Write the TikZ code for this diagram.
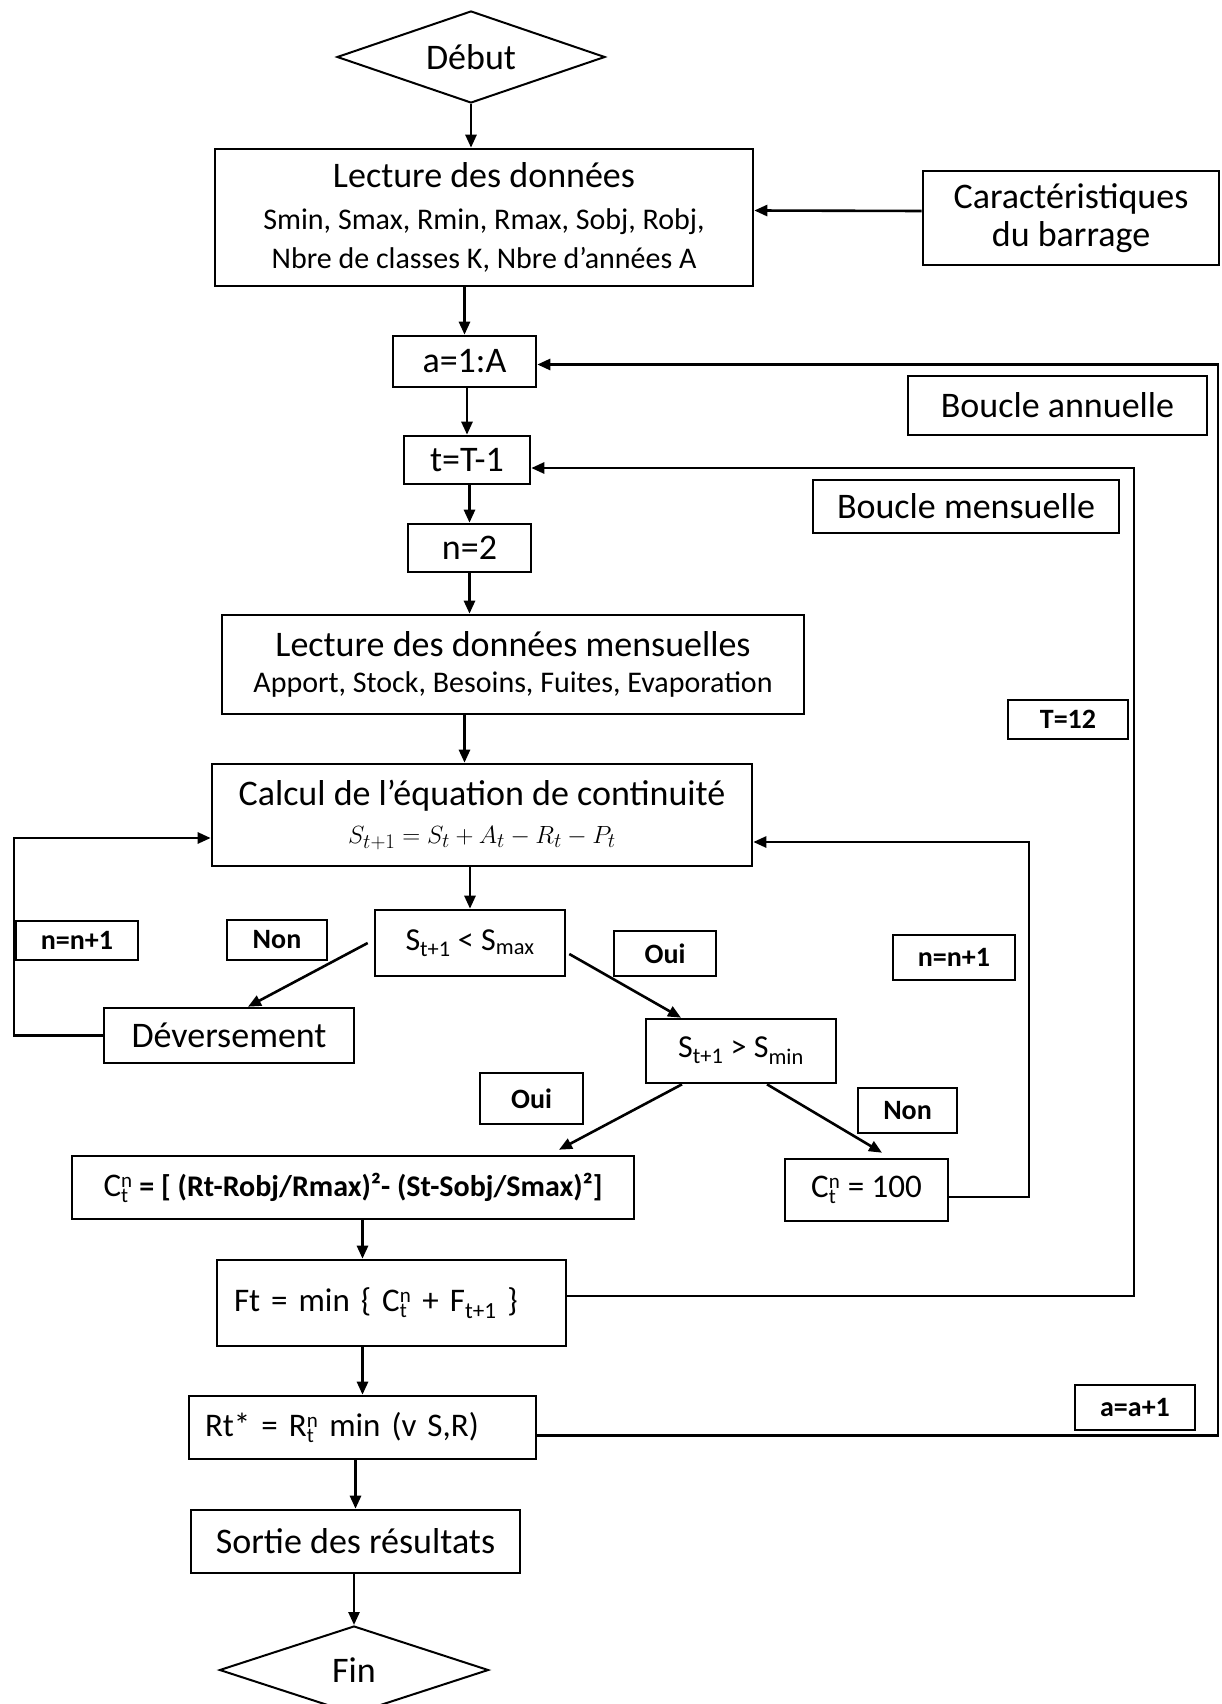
\documentclass[tikz,border=0pt]{standalone}
\usepackage{fontspec}
\setmainfont{Carlito}
\usetikzlibrary{shapes.geometric,arrows.meta}
\newcommand{\ftitle}{\fontsize{36}{42}\selectfont}
\newcommand{\fsub}{\fontsize{30}{34}\selectfont}
\newcommand{\fform}{\fontsize{33}{38}\selectfont}
\newcommand{\subsup}[2]{$_{\mbox{\fontsize{21}{22}\selectfont #1}}^{\mbox{\fontsize{21}{22}\selectfont #2}}$}
\begin{document}
\begin{tikzpicture}[x=1pt,y=-1pt,
  box/.style={draw, line width=2.6pt, rectangle, inner sep=0pt, align=center, font=\ftitle},
  lbl/.style={draw, line width=2.6pt, rectangle, inner sep=0pt, font=\fontsize{28}{32}\selectfont\bfseries},
  decision/.style={draw, line width=2pt, diamond, aspect=3, inner sep=0pt, font=\ftitle},
  arr/.style={line width=2.6pt, -{Triangle[length=13pt,width=11pt]}},
]
\useasboundingbox (0,0) rectangle (1221,1704);

% main column
\node[decision, minimum width=268pt, minimum height=92pt] (debut) at (471,57) {Début};
\node[box, minimum width=538pt, minimum height=137pt] (lect) at (484,217.5)
  {Lecture des données\\[0pt]
   {\fsub Smin, Smax, Rmin, Rmax, Sobj, Robj,}\\[-3pt]
   {\fsub Nbre de classes K, Nbre d’années A}};
\node[box, minimum width=296pt, minimum height=94pt] (carac) at (1071,218)
  {Caractéristiques\\[-4pt] du barrage};
\node[box, minimum width=143pt, minimum height=51pt] (a1) at (464.5,361.5) {a=1:A};
\node[box, minimum width=299pt, minimum height=59pt] (bann) at (1057.5,405.5) {Boucle annuelle};
\node[box, minimum width=126pt, minimum height=48pt] (tT) at (467,460) {t=T-1};
\node[box, minimum width=306pt, minimum height=53pt] (bmens) at (966,506.5) {Boucle mensuelle};
\node[box, minimum width=123pt, minimum height=48pt] (n2) at (469.5,548) {n=2};
\node[box, minimum width=582pt, minimum height=99pt] (lmens) at (513,664.5)
  {Lecture des données mensuelles\\[-6pt]
   {\fsub Apport, Stock, Besoins, Fuites, Evaporation}};
\node[lbl, minimum width=120pt, minimum height=39pt] (t12) at (1068,719.5) {T=12};
\node[box, minimum width=540pt, minimum height=102pt] (calc) at (482,815)
  {Calcul de l’équation de continuité\\[-4pt]
   {\fontsize{31}{36}\selectfont $S_{t+1} = S_t + A_t - R_t - P_t$}};

% tests
\node[lbl, minimum width=122pt, minimum height=39pt] (nn1L) at (77,940.5) {n=n+1};
\node[lbl, minimum width=100pt, minimum height=40pt] (nonL) at (277,940) {Non};
\node[box, minimum width=190pt, minimum height=66pt, font=\fontsize{32}{36}\selectfont] (smax) at (470,943)
  {S\textsubscript{t+1} < S\textsubscript{max}};
\node[lbl, minimum width=102pt, minimum height=45pt] (ouiR) at (665,953.5) {Oui};
\node[lbl, minimum width=122pt, minimum height=45pt] (nn1R) at (954,957.5) {n=n+1};
\node[box, minimum width=250pt, minimum height=55pt] (dev) at (229,1035.5) {Déversement};
\node[box, minimum width=190pt, minimum height=64pt, font=\fontsize{32}{36}\selectfont] (smin) at (741,1051)
  {S\textsubscript{t+1} > S\textsubscript{min}};
\node[lbl, minimum width=103pt, minimum height=51pt] (ouiL) at (531.5,1098.5) {Oui};
\node[lbl, minimum width=99pt, minimum height=45pt] (nonR) at (907.5,1110.5) {Non};
\node[box, minimum width=562pt, minimum height=63pt] (cform) at (353,1187.5)
  {{\fform C\subsup{t}{n}}{\fontsize{30}{34}\selectfont\bfseries\ = [ (Rt-Robj/Rmax)²- (St-Sobj/Smax)²]}};
\node[box, minimum width=163pt, minimum height=62pt, font=\fform] (c100) at (866.5,1190)
  {C\subsup{t}{n} = 100};

% results
\node[box, minimum width=349pt, minimum height=86pt, text width=315pt, align=left, font=\fform] (ft) at (391.5,1303)
  {Ft = min \{ C\subsup{t}{n} + F\textsubscript{t+1} \}\\[8pt]};
\node[box, minimum width=347pt, minimum height=63pt, text width=315pt, align=left, font=\fform] (rt) at (362.5,1427.5)
  {Rt* = R\subsup{t}{n} min (v S,R)};
\node[lbl, minimum width=120pt, minimum height=45pt] (aa1) at (1135,1407.5) {a=a+1};
\node[box, minimum width=329pt, minimum height=63pt] (sortie) at (355.5,1541.5) {Sortie des résultats};
\node[decision, minimum width=269pt, minimum height=88pt] (fin) at (354,1670) {Fin};

% loop rails
\coordinate (lx) at (14,0);
\coordinate (rx1) at (1029,0);
\coordinate (rx2) at (1134,0);
\coordinate (rx3) at (1218,0);

% straight flow
\draw[arr] (debut.south) -- (debut.south |- lect.north);
\draw[arr] ([yshift=7pt]carac.west) -- ([yshift=7pt]lect.east);
\draw[arr] (a1.north |- lect.south) -- (a1.north);
\draw[arr] (tT.north |- a1.south) -- (tT.north);
\draw[arr] (n2.north |- tT.south) -- (n2.north);
\draw[arr] (n2.south) -- (n2.south |- lmens.north);
\draw[arr] (lmens.south -| a1) -- (calc.north -| a1);
\draw[arr] (smax.north |- calc.south) -- (smax.north);

% branches
\draw[arr] ([xshift=-6pt]smax.west) -- ([xshift=19pt]dev.north);
\draw[arr] ([xshift=3pt,yshift=-11pt]smax.east) -- ([xshift=-60pt]smin.north);
\draw[arr] ([xshift=-59pt]smin.south) -- ([xshift=206pt,yshift=5pt]cform.north);
\draw[arr] ([xshift=26pt]smin.south) -- ([xshift=15.5pt,yshift=5pt]c100.north);

% inner loops back to the continuity equation
\draw[arr] (dev.west) -- (dev.west -| lx) |- ([yshift=-23pt]calc.west);
\draw[arr] ([yshift=-7pt]c100.east) -- ([yshift=-7pt]c100.east -| rx1) |- ([yshift=-27pt]calc.east);

% lower flow
\draw[arr] (cform.south -| rt) -- (ft.north -| rt);
\draw[arr] (ft.south -| rt) -- (rt.north);
\draw[arr] (sortie.north |- rt.south) -- (sortie.north);
\draw[arr] (fin.north |- sortie.south) -- (fin.north);

% monthly and annual loops
\draw[arr] ([yshift=7pt]ft.east) -- ([yshift=7pt]ft.east -| rx2) |- ([yshift=-8pt]tT.east);
\draw[arr] ([yshift=-8pt]rt.east) -- ([yshift=-8pt]rt.east -| rx3) |- ([yshift=-3pt]a1.east);
\end{tikzpicture}
\end{document}
